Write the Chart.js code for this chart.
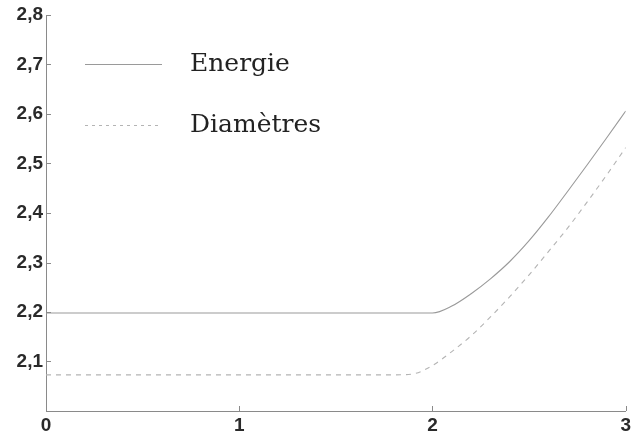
<!DOCTYPE html>
<html>
<head>
<meta charset="utf-8">
<script src="https://cdn.jsdelivr.net/npm/chart.js@4.4.1/dist/chart.umd.min.js"></script>
<style>
  html, body { margin: 0; padding: 0; background: #fff; }
  #wrap { width: 634px; height: 436px; }
</style>
</head>
<body>
<div id="wrap"><canvas id="myChart" width="634" height="436"></canvas></div>
<script>
const xValues = [0, 0.1, 0.2, 0.3, 0.4, 0.5, 0.6, 0.7, 0.8, 0.9, 1, 1.1, 1.2, 1.3, 1.4, 1.5,
                 1.6, 1.7, 1.8, 1.9, 2, 2.1, 2.2, 2.3, 2.4, 2.5, 2.6, 2.7, 2.8, 2.9, 3];
const energie = [2.198, 2.198, 2.198, 2.198, 2.198, 2.198, 2.198, 2.198, 2.198, 2.198, 2.198,
                 2.198, 2.198, 2.198, 2.198, 2.198, 2.198, 2.198, 2.198, 2.198, 2.198,
                 2.212, 2.237, 2.267, 2.302, 2.344, 2.392, 2.444, 2.497, 2.551, 2.606];
const diametres = [2.073, 2.073, 2.073, 2.073, 2.073, 2.073, 2.073, 2.073, 2.073, 2.073, 2.073,
                   2.073, 2.073, 2.073, 2.073, 2.073, 2.073, 2.073, 2.073, 2.075, 2.092,
                   2.120, 2.152, 2.190, 2.231, 2.275, 2.322, 2.370, 2.422, 2.476, 2.532];
const seriesNames = ['Energie', 'Diamètres'];
const xTicks = [0, 1, 2, 3];
const yTicks = [2.1, 2.2, 2.3, 2.4, 2.5, 2.6, 2.7, 2.8];

function toPoints(ys) {
    return xValues.map((x, i) => ({ x: x, y: ys[i] }));
}

// little ticks pointing into the plot, like the original
const innerTicks = {
    id: 'innerTicks',
    afterDraw(chart) {
        const ctx = chart.ctx;
        const xs = chart.scales.x, ys = chart.scales.y;
        ctx.save();
        ctx.strokeStyle = '#8a8a8a';
        ctx.lineWidth = 1;
        ctx.beginPath();
        yTicks.forEach(v => {
            const py = Math.round(ys.getPixelForValue(v)) + 0.5;
            ctx.moveTo(xs.left, py);
            ctx.lineTo(xs.left + 5, py);
        });
        xTicks.forEach(v => {
            const px = Math.round(xs.getPixelForValue(v)) + 0.5;
            ctx.moveTo(px, ys.bottom);
            ctx.lineTo(px, ys.bottom - 5);
        });
        ctx.stroke();
        ctx.restore();
    }
};

// legend drawn inside the plot area, top left
const insideLegend = {
    id: 'insideLegend',
    afterDraw(chart) {
        const ctx = chart.ctx;
        const rows = [64, 125];
        ctx.save();
        chart.data.datasets.forEach((ds, i) => {
            const y = rows[i] + 0.5;
            ctx.strokeStyle = ds.borderColor;
            ctx.lineWidth = 1;
            ctx.setLineDash(i === 1 ? [3, 4] : []);
            ctx.beginPath();
            ctx.moveTo(85, y);
            ctx.lineTo(162, y);
            ctx.stroke();
            ctx.setLineDash([]);
            ctx.fillStyle = '#222';
            ctx.font = '25px "DejaVu Serif", serif';
            ctx.textBaseline = 'middle';
            ctx.fillText(ds.label, 190, rows[i]);
        });
        ctx.restore();
    }
};

const ctx = document.getElementById('myChart').getContext('2d');

new Chart(ctx, {
    type: 'line',
    data: {
        datasets: [{
            label: seriesNames[0],
            data: toPoints(energie),
            borderColor: '#9a9a9a',
            borderWidth: 1.1,
            pointRadius: 0,
            cubicInterpolationMode: 'monotone',
            fill: false
        }, {
            label: seriesNames[1],
            data: toPoints(diametres),
            borderColor: '#b4b4b4',
            borderWidth: 1.1,
            borderDash: [5, 5],
            pointRadius: 0,
            cubicInterpolationMode: 'monotone',
            fill: false
        }]
    },
    options: {
        responsive: false,
        animation: false,
        layout: { padding: { top: 15, right: 4, left: 0, bottom: 0 } },
        plugins: {
            legend: { display: false },
            tooltip: { enabled: false }
        },
        scales: {
            x: {
                type: 'linear',
                min: 0,
                max: 3,
                afterFit: s => { s.height = 25; },
                afterBuildTicks: s => { s.ticks = xTicks.map(v => ({ value: v })); },
                grid: { display: true, drawOnChartArea: false, drawTicks: false },
                border: { display: true, color: '#8a8a8a', width: 1 },
                ticks: {
                    padding: 3,
                    color: '#2a2a2a',
                    font: { family: '"Liberation Sans", Arial, sans-serif', size: 19, weight: 'bold' },
                    maxRotation: 0
                }
            },
            y: {
                min: 2.0,
                max: 2.8,
                afterFit: s => { s.width = 46; },
                afterBuildTicks: s => { s.ticks = [2.0].concat(yTicks).map(v => ({ value: v })); },
                grid: { display: true, drawOnChartArea: false, drawTicks: false },
                border: { display: true, color: '#8a8a8a', width: 1 },
                ticks: {
                    padding: 3,
                    color: '#2a2a2a',
                    font: { family: '"Liberation Sans", Arial, sans-serif', size: 19, weight: 'bold' },
                    callback: v => (Math.abs(v - 2.0) < 1e-6 ? '' : v.toFixed(1).replace('.', ','))
                }
            }
        }
    },
    plugins: [innerTicks, insideLegend]
});
</script>
</body>
</html>
